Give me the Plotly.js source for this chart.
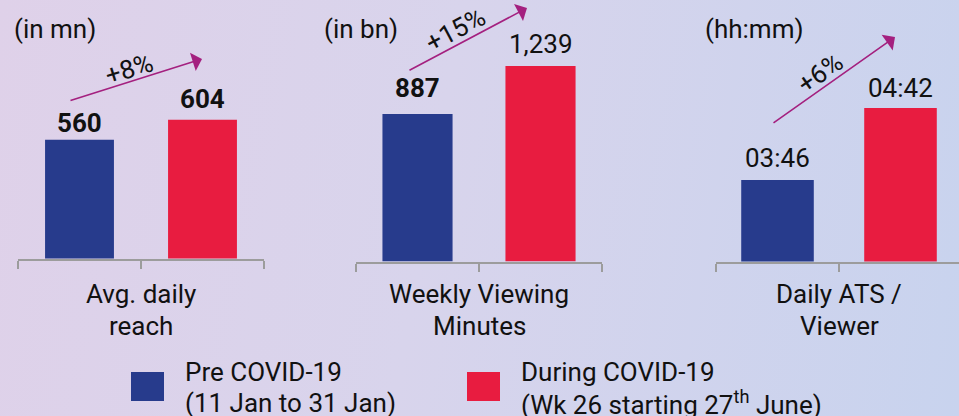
<!DOCTYPE html>
<html><head><meta charset="utf-8">
<script src="https://cdn.plot.ly/plotly-3.0.1.min.js"></script>
<style>
html,body{margin:0;padding:0;}
body{width:959px;height:416px;overflow:hidden;background:linear-gradient(100deg,#dfd1e9 0%,#d8d4ec 45%,#c8d3ee 100%);}
#chart{width:959px;height:416px;}
</style></head>
<body><div id="chart"></div>
<script>
// ---- data ----
const periods = ["Pre", "During"];
const seriesNames = ["Pre COVID-19<br>(11 Jan to 31 Jan)", "During COVID-19<br>(Wk 26 starting 27<sup>th</sup> June)"];
const metrics = ["Avg. daily<br>reach", "Weekly Viewing<br>Minutes", "Daily ATS /<br>Viewer"];
const units = ["(in mn)", "(in bn)", "(hh:mm)"];
const reachValues = [560, 604];
const viewingMinutes = [887, 1239];
const atsMinutes = [226, 282]; // 03:46 and 04:42 (hh:mm)
const changes = ["+8%", "+15%", "+6%"];

// ---- styles ----
const colors = ["#273b8c", "#e81c40"];
const boldLabels = [[true, true], [true, false], [false, false]];
const labelShift = [[0, 4], [9, 5], [5, 3]];
const arrowColor = "#a4207f";
const font = "Roboto, Arial, sans-serif";
const W = 959, H = 416;

const fmtNum = v => v.toLocaleString("en-US");
const fmtTime = m => String(Math.floor(m / 60)).padStart(2, "0") + ":" + String(m % 60).padStart(2, "0");

const panels = [
  {vals: reachValues, fmt: fmtNum, width: 0.56, range: [298, 868], dom: [18, 264], base: 258.5, xr: [-0.5, 1.5]},
  {vals: viewingMinutes, fmt: fmtNum, width: 0.57, range: [-195, 1723], dom: [356, 602], base: 261.5, xr: [-0.5, 1.5]},
  {vals: atsMinutes, fmt: fmtTime, width: 0.59, range: [162.6, 366], dom: [716, 959], base: 261.5, xr: [-0.5, 1.5 - 3 / 123]}
];

const px = v => v / W;
const py = v => 1 - v / H;

// bars start at the bottom of each (non-zero based) value axis
const data = panels.map((p, i) => {
  const b = Math.min(0, p.range[0]);
  return {
    type: "bar",
    x: periods,
    y: p.vals.map(v => v - b),
    base: b,
    xaxis: "x" + (i ? i + 1 : ""),
    yaxis: "y" + (i ? i + 1 : ""),
    marker: {color: colors},
    width: p.width,
    hoverinfo: "skip",
    showlegend: false
  };
});

const xCommon = {
  type: "category", showline: true, linecolor: "#9c9c9c", linewidth: 2,
  ticks: "outside", tickson: "boundaries", ticklen: 8, tickcolor: "#9c9c9c", tickwidth: 2,
  showticklabels: false, showgrid: false, zeroline: false, fixedrange: true
};
const yCommon = {visible: false, showgrid: false, zeroline: false, fixedrange: true};

const layout = {
  width: W, height: H,
  margin: {l: 0, r: 0, t: 0, b: 0},
  paper_bgcolor: "rgba(0,0,0,0)", plot_bgcolor: "rgba(0,0,0,0)",
  font: {family: font, color: "#111", size: 26},
  annotations: [], shapes: []
};
panels.forEach((p, i) => {
  const s = i ? String(i + 1) : "";
  layout["xaxis" + s] = Object.assign({}, xCommon, {domain: [px(p.dom[0]), px(p.dom[1])], anchor: "y" + s, range: p.xr});
  layout["yaxis" + s] = Object.assign({}, yCommon, {domain: [py(p.base), 1], anchor: "x" + s, range: p.range});
});

const ann = layout.annotations;
const txt = (o) => ann.push(Object.assign({showarrow: false, font: {size: 26, family: font, color: "#111"}}, o));

panels.forEach((p, i) => {
  const s = i ? String(i + 1) : "";
  // value labels
  p.vals.forEach((v, j) => {
    const t = p.fmt(v);
    txt({xref: "x" + s, yref: "y" + s, x: j, y: v,
      text: boldLabels[i][j] ? "<b>" + t + "</b>" : t,
      yanchor: "bottom", yshift: labelShift[i][j]});
  });
  // metric labels (centred under each axis), one annotation per line
  metrics[i].split("<br>").forEach((line, k) => {
    txt({xref: "x" + s, yref: "paper", x: 0.5, y: py(294 + 32 * k), yanchor: "middle", text: line});
  });
});

// unit labels
[[12, 29], [322, 29], [703, 29]].forEach((pos, i) => {
  txt({xref: "paper", yref: "paper", x: px(pos[0]), y: py(pos[1]), xanchor: "left", yanchor: "middle", text: units[i]});
});

// trend arrows and change labels
const arrows = [
  {tip: [202, 59], tail: [69, 101], lab: [129, 69], ang: -17.5},
  {tip: [527, 8], tail: [408, 71], lab: [455, 30], ang: -28},
  {tip: [895, 37], tail: [772, 124], lab: [820, 73], ang: -35}
];
arrows.forEach((a, i) => {
  ann.push({xref: "paper", yref: "paper", x: px(a.tip[0]), y: py(a.tip[1]),
    ax: a.tail[0] - a.tip[0], ay: a.tail[1] - a.tip[1], text: "", showarrow: true,
    arrowhead: 1, arrowsize: 2, arrowwidth: 1.6, arrowcolor: arrowColor});
  txt({xref: "paper", yref: "paper", x: px(a.lab[0]), y: py(a.lab[1]),
    text: changes[i], textangle: a.ang, xanchor: "center", yanchor: "middle"});
});

// legend (custom large swatches)
const legendPos = [{sq: [131, 164], tx: 183}, {sq: [467, 500], tx: 519}];
legendPos.forEach((l, i) => {
  layout.shapes.push({type: "rect", xref: "paper", yref: "paper",
    x0: px(l.sq[0]), x1: px(l.sq[1]), y0: py(401), y1: py(372),
    fillcolor: colors[i], line: {width: 0}});
  seriesNames[i].split("<br>").forEach((line, k) => {
    txt({xref: "paper", yref: "paper", x: px(l.tx), y: py(372 + 31 * k), xanchor: "left", yanchor: "middle",
      align: "left", text: line});
  });
});

Plotly.newPlot("chart", data, layout, {staticPlot: true, displayModeBar: false});
</script>
</body></html>
